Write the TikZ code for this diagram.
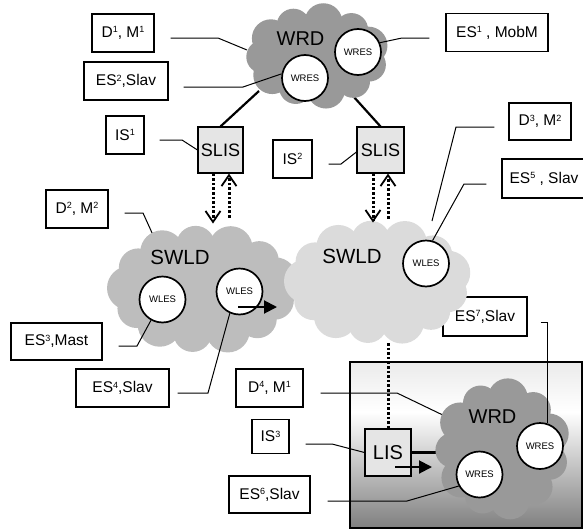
\documentclass[tikz,border=0pt]{standalone}
\usepackage{fontspec}
\setmainfont{Liberation Sans}
\usetikzlibrary{arrows.meta,calc}

\definecolor{wrdgray}{gray}{0.60}
\definecolor{swldA}{gray}{0.74}
\definecolor{swldB}{gray}{0.86}
\definecolor{lisgray}{gray}{0.90}

\pgfdeclareverticalshading{panelshade}{100bp}{color(0bp)=(black!50); color(25bp)=(black!50); color(60bp)=(white); color(75bp)=(black!8); color(100bp)=(black!8)}

\newcommand\supx[1]{\raisebox{4.6pt}{\fontsize{9}{9}\selectfont #1}}

\newcommand\cloudshape[7]{%
  \fill[#7] (#1,#2) ellipse [x radius={#3-#5}, y radius={#4-#5}];
  \foreach \k in {1,...,#6}{%
    \pgfmathsetmacro\ang{360*\k/#6+15}%
    \pgfmathsetmacro\rr{#5*(1-0.12*mod(\k,2))}%
    \fill[#7] ({#1+(#3-#5)*cos(\ang)},{#2+(#4-#5)*sin(\ang)}) circle [radius=\rr pt];
  }%
}

\begin{document}
\begin{tikzpicture}[x=1pt,y=-1pt,
  lbl/.style={draw, line width=1.1pt, fill=white, inner sep=0pt, minimum height=38pt, font=\fontsize{15.5}{18}\selectfont},
  resc/.style={circle, draw, line width=1.7pt, fill=white, minimum size=46pt, inner sep=0pt, font=\fontsize{9.5}{10}\selectfont},
  isbox/.style={draw, line width=1.1pt, fill=lisgray, inner sep=0pt, minimum width=46pt, minimum height=46pt},
  callout/.style={line width=1pt},
  fatlink/.style={line width=2.2pt},
  dotline/.style={line width=3pt, dash pattern=on 2.6pt off 2pt},
  dotarrow/.style={dotline, -{Straight Barb[line width=1.8pt,length=11pt,width=15pt]}},
  fatarrow/.style={line width=2pt, -{Triangle[length=13pt,width=13pt]}},
  bigtxt/.style={inner sep=0pt, font=\fontsize{20}{22}\selectfont},
]
\useasboundingbox (0,0) rectangle (583,530);
\clip (0,0) rectangle (583,530);

% panel
\shade[shading=panelshade] (350,362) rectangle (582,528);
\draw[line width=1.5pt] (350,362) rectangle (582,528);

% cloud edge coordinates
\coordinate (cW1) at (247,50);
\coordinate (cW2) at (259,91);
\coordinate (cW3) at (353,96);
\coordinate (cSR1) at (432,221);
\coordinate (cSR2) at (388,343);
\coordinate (cSL1) at (153,235);
\coordinate (cWB1) at (449,418);
\coordinate (cWB2) at (438,452.5);

% boxes
\node[lbl, minimum width=62pt] (d1) at (123,33) {D\supx{1}, M\supx{1}};
\node[lbl, minimum width=84pt] (es2) at (126,81) {ES\supx{2},Slav};
\node[lbl, minimum width=38pt] (is1) at (125,135) {IS\supx{1}};
\node[lbl, minimum width=102pt] (es1) at (497,32.5) {ES\supx{1} , MobM};
\node[lbl, minimum width=39pt] (is2) at (292.5,159) {IS\supx{2}};
\node[lbl, minimum width=62pt, minimum height=37pt] (d3) at (540,121.5) {D\supx{3}, M\supx{2}};
\node[lbl, minimum width=84pt, minimum height=39pt] (es5) at (544,178.5) {ES\supx{5} , Slav};
\node[lbl, minimum width=62pt] (d2) at (77,209) {D\supx{2}, M\supx{2}};
\node[lbl, minimum width=91pt, minimum height=37pt] (es3) at (56.5,341.5) {ES\supx{3},Mast};
\node[lbl, minimum width=93pt] (es4) at (122.5,388) {ES\supx{4},Slav};
\node[lbl, minimum width=67pt] (d4) at (269.5,388) {D\supx{4}, M\supx{1}};
\node[lbl, minimum width=84pt, minimum height=39pt] (es7) at (485,316.5) {ES\supx{7},Slav};
\node[lbl, minimum width=37pt, minimum height=34pt] (is3) at (270.5,436.5) {IS\supx{3}};
\node[lbl, minimum width=81pt, minimum height=37pt] (es6) at (269.5,494.5) {ES\supx{6},Slav};

% SLIS / LIS
\node[isbox, minimum width=45pt, font=\fontsize{18}{20}\selectfont] (slis1) at (220.5,150) {SLIS};
\node[isbox, minimum width=47pt, font=\fontsize{18}{20}\selectfont] (slis2) at (380.5,150) {SLIS};
\node[isbox, minimum height=47pt, font=\fontsize{20}{22}\selectfont] (lis) at (388,452.5) {LIS};

% links that end on cloud edges (under clouds)
\draw[fatlink] (slis1.north) -- (cW2);
\draw[fatlink] (slis2.north) -- (cW3);
\draw[fatlink] (lis.east) -- (cWB2);
\draw[callout] ([xshift=16pt,yshift=-5pt]d1.east) -- (218,38) -- (cW1);
\draw[callout] ([xshift=-14pt,yshift=-5.5pt]d3.west) -- (456,127) -- (cSR1);
\draw[callout] ([xshift=16pt,yshift=-4pt]d2.east) -- (143,213) -- (cSL1);
\draw[callout] ([xshift=17pt,yshift=-5pt]d4.east) -- (397,393) -- (cWB1);

% clouds
\cloudshape{203}{289}{96}{66}{22}{13}{swldA}
\cloudshape{378}{282}{94}{64}{22}{13}{swldB}
\cloudshape{317}{56}{73}{53}{19}{11}{wrdgray}
\cloudshape{502}{449}{69}{71}{20}{11}{wrdgray}

% cloud titles
\node[bigtxt] (t1) at (300.5,38.5) {WRD};
\node[bigtxt, font=\fontsize{20.5}{22}\selectfont] (t2) at (180,257.5) {SWLD};
\node[bigtxt, font=\fontsize{20.5}{22}\selectfont] (t3) at (352,256) {SWLD};
\node[bigtxt] (t4) at (492.5,417) {WRD};

% resource circles
\node[resc] (wres1) at (358,52) {WRES};
\node[resc] (wres2) at (305,78) {WRES};
\node[resc] (wlesL1) at (162.5,299.5) {WLES};
\node[resc] (wlesL2) at (239.5,291.5) {WLES};
\node[resc] (wlesR) at (426,263.5) {WLES};
\node[resc] (wresB1) at (479.5,474.5) {WRES};
\node[resc] (wresB2) at (540,446) {WRES};

% callouts to circles and IS boxes
\draw[callout] ([xshift=15pt,yshift=-6pt]es2.east) -- (243,87) -- (wres2.170);
\draw[callout] ([xshift=-16pt,yshift=-5.5pt]es1.west) -- (402,38) -- (wres1.23);
\draw[callout] ([xshift=15pt,yshift=-5pt]is1.east) -- (182,140) -- (slis1.west);
\draw[callout] ([xshift=16pt,yshift=-5pt]is2.east) -- (341,164) -- ([yshift=-2pt]slis2.west);
\draw[callout] ([xshift=-15pt,yshift=-5.5pt]es5.west) -- (464,184) -- (wlesR.74);
\draw[callout] ([xshift=16pt,yshift=-4.5pt]es3.east) -- (137,346) -- (wlesL1.241);
\draw[callout] ([xshift=8pt,yshift=-5pt]es4.east) -- (208,393) -- (wlesL2.246);
\draw[callout] ([xshift=16pt,yshift=-7.5pt]is3.east) -- (332,444) -- (lis.west);
\draw[callout] ([xshift=17pt,yshift=-6.5pt]es6.east) -- (407,501) -- (wresB1.209);
\draw[callout] ([xshift=13pt,yshift=-5.5pt]es7.east) -| (wresB2.72);

% dotted arrows
\draw[dotarrow] ([xshift=-7.5pt]slis1.south) -- ++(0,50);
\draw[dotarrow] ([xshift=8.5pt]slis1.south) ++(0,44) -- ++(0,-44);
\draw[dotarrow] ([xshift=-7.5pt]slis2.south) -- ++(0,49);
\draw[dotarrow] ([xshift=7.5pt]slis2.south) ++(0,45) -- ++(0,-45);
\draw[dotline] (cSR2) -- (lis.north);

% fat arrows
\coordinate (aL1) at (238,307);
\coordinate (aL2) at (277,307);
\coordinate (aB1) at (395,467);
\coordinate (aB2) at (432,467);
\draw[fatarrow] (aL1) -- (aL2);
\draw[fatarrow] (aB1) -- (aB2);
\end{tikzpicture}
\end{document}
